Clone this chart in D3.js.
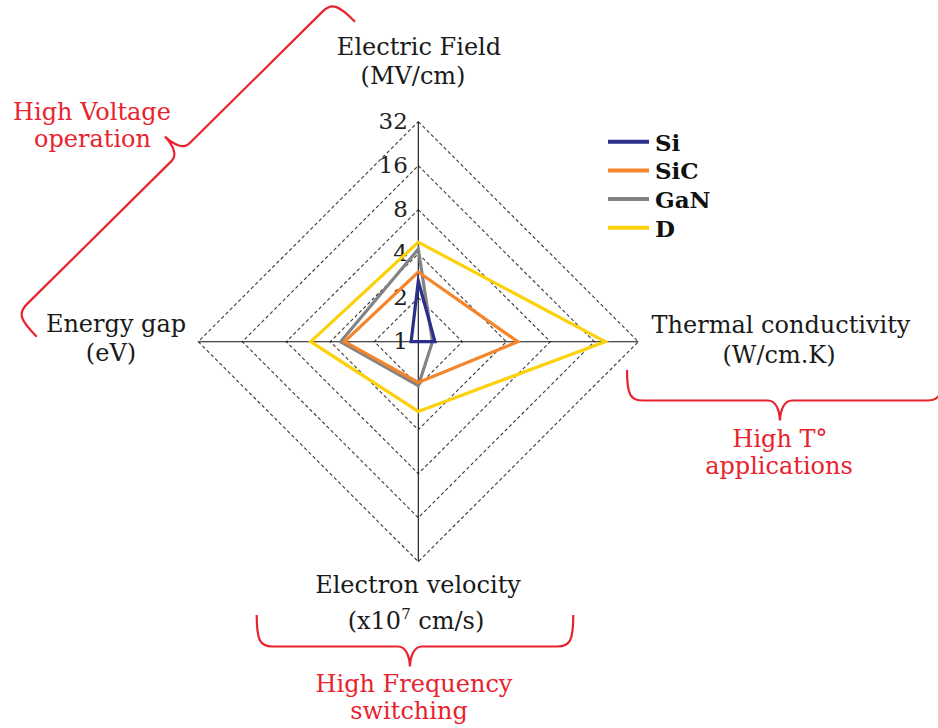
<!DOCTYPE html>
<html>
<head>
<meta charset="utf-8">
<script src="https://cdn.jsdelivr.net/npm/d3@7"></script>
<style>
  html, body { margin: 0; padding: 0; background: #fff; }
  svg { display: block; }
  text { font-family: "DejaVu Serif", "Liberation Serif", serif; }
</style>
</head>
<body>
<svg id="chart" width="938" height="728"></svg>
<script>
// ---- data ----
const axesNames = ["Electric Field", "Thermal conductivity", "Electron velocity", "Energy gap"];
const axesUnits = ["(MV/cm)", "(W/cm.K)", "(x10^7 cm/s)", "(eV)"];
const tickValues = [1, 2, 4, 8, 16, 32];
const tickLabels = ["1", "2", "4", "8", "16", "32"];
const seriesNames = ["Si", "SiC", "GaN", "D"];
// order of values: Electric Field, Thermal conductivity, Electron velocity, Energy gap
const siValues  = [2.6, 1.3, 1.0, 1.12];
const sicValues = [3.0, 4.8, 1.9, 3.2];
const ganValues = [4.3, 1.25, 2.0, 3.4];
const dValues   = [4.8, 19, 3.0, 5.45];
const seriesColors = ["#2b2f8c", "#f5852b", "#838383", "#fdd10a"];
const annotations = [["High Voltage", "operation"], ["High T°", "applications"], ["High Frequency", "switching"]];

// ---- layout ----
const svg = d3.select("#chart");
const cx = 418.3, cy = 341.7, R = 220;
const red = "#e8232e";
const r = d3.scaleLog().base(2).domain([1, 32]).range([0, R]);
const angle = i => i * Math.PI / 2; // clockwise from 12 o'clock
const g = svg.append("g").attr("transform", `translate(${cx},${cy})`);

// dashed rings
const ringLine = d3.lineRadial().angle((d, i) => angle(i)).radius(d => r(d)).curve(d3.curveLinearClosed);
g.selectAll("path.ring").data(tickValues.filter(v => v > 1)).join("path")
  .attr("class", "ring")
  .attr("d", v => ringLine([v, v, v, v]))
  .attr("fill", "none").attr("stroke", "#3a3a3a").attr("stroke-width", 1.1)
  .attr("stroke-dasharray", "3.5,2.5");

// axes
[0, 1, 2, 3].forEach(i => {
  const a = angle(i);
  g.append("line").attr("x1", 0).attr("y1", 0)
    .attr("x2", Math.sin(a) * r(32)).attr("y2", -Math.cos(a) * r(32))
    .attr("stroke", "#111").attr("stroke-width", 1.1);
});

// tick labels (on top axis)
g.selectAll("text.tick").data(tickValues).join("text")
  .attr("class", "tick")
  .attr("x", -10.5).attr("y", v => -r(v) - 1)
  .attr("dy", "0.36em")
  .attr("text-anchor", "end")
  .attr("font-size", 23).attr("fill", "#222")
  .text((v, i) => tickLabels[i]);

// series polygons (drawn D first, Si last)
const allSeries = [siValues, sicValues, ganValues, dValues];
const polyLine = d3.lineRadial().angle((d, i) => angle(i)).radius(d => r(d)).curve(d3.curveLinearClosed);
for (let k = allSeries.length - 1; k >= 0; k--) {
  g.append("path").attr("d", polyLine(allSeries[k]))
    .attr("fill", "none").attr("stroke", seriesColors[k]).attr("stroke-width", 3.2)
    .attr("stroke-linejoin", "miter").attr("stroke-miterlimit", 10);
}

// legend
const leg = svg.append("g").attr("transform", "translate(608,141.7)");
seriesNames.forEach((name, k) => {
  const y = k * 28.7;
  leg.append("line").attr("x1", 0).attr("x2", 41).attr("y1", y).attr("y2", y)
    .attr("stroke", seriesColors[k]).attr("stroke-width", 4);
  leg.append("text").attr("x", 47).attr("y", y + 9)
    .attr("font-size", 23).attr("font-weight", "bold").attr("fill", "#111").text(name);
});

// axis titles
function twoLines(x1, y1, t1, x2, y2, t2, color) {
  svg.append("text").attr("x", x1).attr("y", y1).attr("text-anchor", "middle")
    .attr("font-size", 24).attr("fill", color).text(t1);
  const t = svg.append("text").attr("x", x2).attr("y", y2).attr("text-anchor", "middle")
    .attr("font-size", 24).attr("fill", color);
  if (t2.includes("^")) {
    const m = t2.match(/^(.*)\^(\d+)(.*)$/);
    t.append("tspan").text(m[1]);
    t.append("tspan").attr("font-size", 15).attr("dy", -10).text(m[2]);
    t.append("tspan").attr("dy", 10).text(m[3]);
  } else {
    t.text(t2);
  }
}
const ink = "#1a1a1a";
twoLines(419, 55, axesNames[0], 413, 84, axesUnits[0], ink);
twoLines(781, 333, axesNames[1], 779, 363, axesUnits[1], ink);
twoLines(418, 593, axesNames[2], 416, 629, axesUnits[2], ink);
twoLines(116, 332, axesNames[3], 111, 361, axesUnits[3], ink);

// red annotations
twoLines(92, 120, annotations[0][0], 92.5, 147, annotations[0][1], red);
twoLines(780, 447, annotations[1][0], 779, 474, annotations[1][1], red);
twoLines(414, 692, annotations[2][0], 409, 719, annotations[2][1], red);

// braces
function brace(A, B, s, t, frac, hook, tipW) {
  const dx = B[0] - A[0], dy = B[1] - A[1];
  const L = Math.hypot(dx, dy);
  const d = [dx / L, dy / L], n = [-d[1], d[0]];
  const P = (x, y) => [A[0] + x * d[0] + y * n[0], A[1] + x * d[1] + y * n[1]];
  const p = frac * L;
  const pa = d3.path();
  const m = P(0, 0); pa.moveTo(m[0], m[1]);
  const C = (a, b, c) => { const q1 = P(...a), q2 = P(...b), q3 = P(...c); pa.bezierCurveTo(q1[0], q1[1], q2[0], q2[1], q3[0], q3[1]); };
  const Lt = (a) => { const q = P(...a); pa.lineTo(q[0], q[1]); };
  C([0, s * 0.8], [hook * 0.2, s], [hook, s]);
  Lt([p - tipW, s]);
  C([p - tipW * 0.4, s], [p - tipW * 0.05, s + (t - s) * 0.4], [p, t]);
  C([p + tipW * 0.05, s + (t - s) * 0.4], [p + tipW * 0.4, s], [p + tipW, s]);
  Lt([L - hook, s]);
  C([L - hook * 0.2, s], [L, s * 0.8], [L, 0]);
  svg.append("path").attr("d", pa.toString()).attr("fill", "none")
    .attr("stroke", red).attr("stroke-width", 2.2);
}
brace([355, 21.7], [36.7, 336.7], 30, 52, 0.482, 16, 12);
brace([256.7, 615], [573.3, 615], 31.5, 51.5, 0.484, 16, 12);
brace([627, 370], [943, 370], 30.5, 50.5, 0.484, 16, 12);
</script>
</body>
</html>
